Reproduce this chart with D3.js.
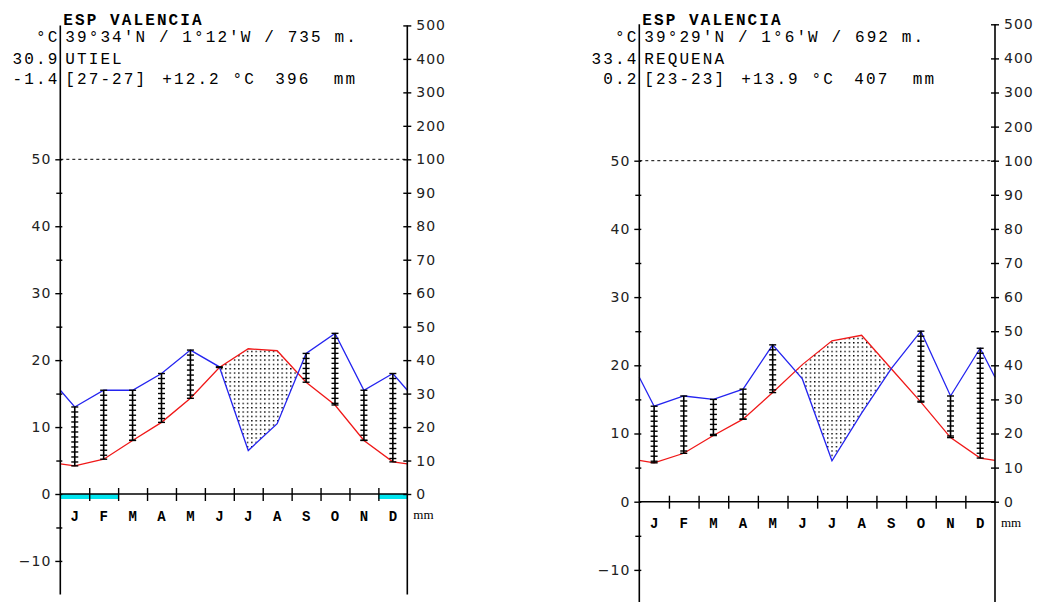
<!DOCTYPE html>
<html>
<head>
<meta charset="utf-8">
<script src="https://cdn.jsdelivr.net/npm/d3@7"></script>
<style>
  body { margin: 0; background: #fff; }
  svg text { white-space: pre; }
</style>
</head>
<body>
<script>
// monthly data
const months = ["J", "F", "M", "A", "M", "J", "J", "A", "S", "O", "N", "D"];

const utielTemp = [4.2, 5.2, 8.0, 10.7, 14.3, 18.9, 21.7, 21.4, 16.7, 13.3, 8.0, 4.8];
const utielPrec = [26, 31, 31, 36, 43, 38, 13, 21, 42, 48, 31, 36];
const utielFrost = [1, 1, 0, 0, 0, 0, 0, 0, 0, 0, 0, 1];

const requenaTemp = [5.7, 7.1, 9.7, 12.1, 16.0, 20.1, 23.6, 24.4, 19.5, 14.6, 9.4, 6.4];
const requenaPrec = [28, 31, 30, 33, 46, 36, 12, 26, 39, 50, 31, 45];
const requenaFrost = [0, 0, 0, 0, 0, 0, 0, 0, 0, 0, 0, 0];

// header texts
const countries = ["ESP VALENCIA", "ESP VALENCIA"];
const coords = ["39°34'N / 1°12'W / 735 m.", "39°29'N / 1°6'W / 692 m."];
const stations = ["UTIEL", "REQUENA"];
const maxTemps = ["30.9", "33.4"];
const minTemps = ["-1.4", "0.2"];
const periods = ["[27-27]", "[23-23]"];
const meanTemps = [12.2, 13.9];
const totalPrecs = [396, 407];

// axis ticks
const tempTicks = [-10, 0, 10, 20, 30, 40, 50];
const tempMinorTicks = [-5, 5, 15, 25, 35, 45];
const precTicks = [0, 10, 20, 30, 40, 50, 60, 70, 80, 90, 100, 200, 300, 400, 500];

const mono = "'Liberation Mono', 'Courier New', monospace";
const sans = "'DejaVu Sans', Verdana, sans-serif";
const LS = 2.1; // letter spacing of the header font

let svg = d3.select("body").append("svg")
  .attr("width", 1042)
  .attr("height", 602);

let defs = svg.append("defs");
defs.append("pattern")
  .attr("id", "dots")
  .attr("patternUnits", "userSpaceOnUse")
  .attr("width", 4.33)
  .attr("height", 4.33)
  .append("rect")
  .attr("width", 1.4)
  .attr("height", 1.4)
  .attr("fill", "#000");

function closePts(arr) {
  // lines run to both borders through the Dec/Jan midpoint
  let edge = (arr[11] + arr[0]) / 2;
  return [[0, edge]].concat(arr.map((v, j) => [j + 0.5, v]), [[12, edge]]);
}

function panel(p, idx) {
  let g = svg.append("g");

  let x = d3.scaleLinear().domain([0, 12]).range([p.x0, p.x1]);
  let yT = d3.scaleLinear().domain([0, 50]).range([p.y0, p.y50]);
  let yP = d3.scaleLinear().domain([0, 100, 500]).range([yT(0), yT(50), yT(70)]);
  let top = yT(70), bottom = yT(-15);

  let tPts = closePts(p.temp);
  let pPts = closePts(p.prec);

  // dry season: under the temperature line and above the rain line
  let clipId = "wet" + idx;
  defs.append("clipPath").attr("id", clipId)
    .append("path")
    .attr("d", d3.area().x(d => x(d[0])).y0(top).y1(d => yP(d[1]))(pPts));

  g.append("path")
    .attr("d", d3.area().x(d => x(d[0])).y0(yT(0)).y1(d => yT(d[1]))(tPts))
    .attr("fill", "url(#dots)")
    .attr("clip-path", "url(#" + clipId + ")");

  // frost months
  g.selectAll(".frost")
    .data(p.frost.map((f, j) => [f, j]).filter(d => d[0]))
    .enter().append("rect")
    .attr("x", d => x(d[1]))
    .attr("width", x(1) - x(0))
    .attr("y", yT(0))
    .attr("height", 5)
    .attr("fill", "#00e4ee");

  // 100 mm dashed line
  g.append("line")
    .attr("x1", p.x0).attr("x2", p.x1)
    .attr("y1", yT(50)).attr("y2", yT(50))
    .attr("stroke", "#000")
    .attr("stroke-dasharray", "3,3");

  // lines
  g.append("path")
    .datum(tPts)
    .attr("d", d3.line().x(d => x(d[0])).y(d => yT(d[1])))
    .attr("fill", "none")
    .attr("stroke", "#f01818")
    .attr("stroke-width", 1.3);

  g.append("path")
    .datum(pPts)
    .attr("d", d3.line().x(d => x(d[0])).y(d => yP(d[1])))
    .attr("fill", "none")
    .attr("stroke", "#2424f0")
    .attr("stroke-width", 1.3);

  // humid months: hatched bars
  p.temp.forEach((t, j) => {
    let pv = p.prec[j];
    if (yP(pv) >= yT(t)) return;
    let cx = x(j + 0.5), yb = yT(t), yt = yP(pv);
    g.append("line")
      .attr("x1", cx).attr("x2", cx)
      .attr("y1", yt).attr("y2", yb)
      .attr("stroke", "#000")
      .attr("stroke-width", 1.6);
    let marks = d3.range(yt, yb, 5).concat([yb]);
    g.selectAll(null)
      .data(marks)
      .enter().append("line")
      .attr("x1", cx - 3.5).attr("x2", cx + 3.5)
      .attr("y1", d => d).attr("y2", d => d)
      .attr("stroke", "#000")
      .attr("stroke-width", 1.4);
  });

  // left axis
  let la = g.append("g")
    .attr("transform", "translate(" + p.x0 + ",0)")
    .call(d3.axisLeft(yT).tickValues(tempTicks).tickSize(5).tickPadding(5).tickFormat(d3.format("d")));
  la.select(".domain").remove();
  la.selectAll(".tick line").attr("x1", 2).attr("stroke-width", 1.4);

  let lm = g.append("g")
    .attr("transform", "translate(" + p.x0 + ",0)")
    .call(d3.axisLeft(yT).tickValues(tempMinorTicks).tickSize(4).tickFormat(""));
  lm.select(".domain").remove();
  lm.selectAll(".tick line").attr("x1", 2).attr("stroke-width", 1.4);

  // right axis
  let ra = g.append("g")
    .attr("transform", "translate(" + p.x1 + ",0)")
    .call(d3.axisRight(yP).tickValues(precTicks).tickSize(4).tickPadding(5));
  ra.select(".domain").remove();
  ra.selectAll(".tick line").attr("x1", -4).attr("stroke-width", 1.4);

  g.selectAll(".tick text")
    .attr("font-family", sans)
    .attr("font-size", 14)
    .attr("letter-spacing", 1)
    .attr("fill", "#222");
  la.selectAll(".tick text").attr("dx", 1);

  [p.x0, p.x1].forEach(ax => {
    g.append("line")
      .attr("x1", ax).attr("x2", ax)
      .attr("y1", top).attr("y2", bottom)
      .attr("stroke", "#000")
      .attr("stroke-width", 1.6);
  });

  // month axis
  let ma = g.append("g")
    .attr("transform", "translate(0," + yT(0) + ")")
    .call(d3.axisBottom(x).tickValues(d3.range(1, 12)).tickSize(7).tickFormat(""));
  ma.select(".domain").remove();
  ma.selectAll(".tick line").attr("y1", -6).attr("stroke-width", 1.4);

  g.append("line")
    .attr("x1", p.x0).attr("x2", p.x1)
    .attr("y1", yT(0)).attr("y2", yT(0))
    .attr("stroke", "#000")
    .attr("stroke-width", 1.6);

  g.selectAll(".month")
    .data(months)
    .enter().append("text")
    .attr("x", (d, j) => x(j + 0.5))
    .attr("y", yT(0) + 26.5)
    .attr("text-anchor", "middle")
    .attr("font-family", mono)
    .attr("font-weight", "bold")
    .attr("font-size", 14)
    .text(d => d);

  g.append("text")
    .attr("x", p.x1 + 6)
    .attr("y", yT(0) + 25)
    .attr("font-family", "'Liberation Serif', serif")
    .attr("font-size", 13)
    .text("mm");

  // header
  let head = function(xx, yy, s, anchor, bold) {
    return g.append("text")
      .attr("x", xx).attr("y", yy)
      .attr("text-anchor", anchor || "start")
      .attr("font-family", mono)
      .attr("font-size", 16)
      .attr("font-weight", bold ? "bold" : "normal")
      .attr("letter-spacing", LS)
      .text(s);
  };
  head(p.x0 + 3, 25, countries[idx], "start", true);
  head(p.x0 - 3 + LS, 42, "°C", "end");
  head(p.x0 + 5, 42, coords[idx]);
  head(p.x0 - 3 + LS, 64, maxTemps[idx], "end");
  head(p.x0 + 5, 64, stations[idx]);
  head(p.x0 - 3 + LS, 84, minTemps[idx], "end");
  head(p.x0 + 5, 84, periods[idx]);
  head(p.x0 + 102, 84, "+" + meanTemps[idx].toFixed(1) + " °C");
  head(p.x0 + 215, 84, totalPrecs[idx] + "  mm");
}

panel({temp: utielTemp, prec: utielPrec, frost: utielFrost,
       x0: 60.3, x1: 407.3, y0: 494, y50: 159.3}, 0);
panel({temp: requenaTemp, prec: requenaPrec, frost: requenaFrost,
       x0: 639.3, x1: 995, y0: 501.7, y50: 160.7}, 1);
</script>
</body>
</html>
